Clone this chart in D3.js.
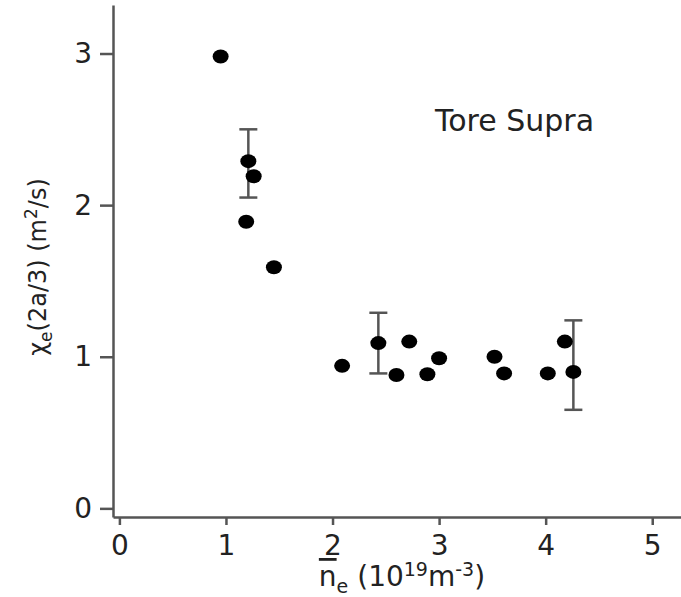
<!DOCTYPE html>
<html>
<head>
<meta charset="utf-8">
<script src="https://cdn.jsdelivr.net/npm/d3@7"></script>
<style>
  body { margin: 0; background: #fff; }
  svg text { font-family: "DejaVu Sans", Arial, Helvetica, sans-serif; fill: #222; }
  .axis path, .axis line { stroke: #555; stroke-width: 2.5px; }
  .axis text { font-size: 28px; }
</style>
</head>
<body>
<div id="container"></div>
<script>
var width = 681,
    height = 597;

// data
var density = [0.95, 1.21, 1.26, 1.19, 1.45, 2.09, 2.43, 2.60, 2.72, 2.89, 3.00, 3.52, 3.61, 4.02, 4.18, 4.26];
var chi = [2.98, 2.29, 2.19, 1.89, 1.59, 0.94, 1.09, 0.88, 1.10, 0.885, 0.99, 1.00, 0.89, 0.89, 1.10, 0.90];
var errX = [1.21, 2.43, 4.26];
var errLo = [2.05, 0.89, 0.65];
var errHi = [2.50, 1.29, 1.24];
var xTicks = [0, 1, 2, 3, 4, 5];
var yTicks = [0, 1, 2, 3];

var svg = d3.select('#container')
    .append('svg')
    .attr('width', width)
    .attr('height', height);

var scale_x = d3.scaleLinear()
    .domain([-0.06, 5.27])
    .range([113, 681]);
var scale_y = d3.scaleLinear()
    .domain([-0.057, 3.32])
    .range([517, 5]);

// x axis
svg.append('g')
    .attr('class', 'axis')
    .attr('transform', 'translate(0,' + scale_y(-0.057) + ')')
    .call(d3.axisBottom(scale_x).tickValues(xTicks).tickFormat(d3.format('d'))
        .tickSize(8).tickSizeOuter(0).tickPadding(10));
// y axis
svg.append('g')
    .attr('class', 'axis')
    .attr('transform', 'translate(' + scale_x(-0.06) + ',0)')
    .call(d3.axisLeft(scale_y).tickValues(yTicks).tickFormat(d3.format('d'))
        .tickSize(13).tickSizeOuter(0).tickPadding(8));

svg.selectAll('.axis text').attr('fill', '#222');

// error bars
var eb = svg.append('g').attr('stroke', '#555').attr('stroke-width', 2.5);
errX.forEach(function (x, i) {
    eb.append('line')
        .attr('x1', scale_x(x)).attr('x2', scale_x(x))
        .attr('y1', scale_y(errLo[i])).attr('y2', scale_y(errHi[i]));
    [errLo[i], errHi[i]].forEach(function (v) {
        eb.append('line')
            .attr('x1', scale_x(x) - 9).attr('x2', scale_x(x) + 9)
            .attr('y1', scale_y(v)).attr('y2', scale_y(v));
    });
});

// points
svg.append('g')
    .selectAll('ellipse')
    .data(density)
    .enter()
    .append('ellipse')
    .attr('cx', function (d) { return scale_x(d); })
    .attr('cy', function (d, i) { return scale_y(chi[i]); })
    .attr('rx', 8)
    .attr('ry', 7)
    .attr('fill', '#000');

// annotation
svg.append('text')
    .attr('x', 435)
    .attr('y', 131)
    .attr('font-size', 30)
    .text('Tore Supra');

// x title
var xt = svg.append('text')
    .attr('x', 402)
    .attr('y', 586)
    .attr('text-anchor', 'middle')
    .attr('font-size', 28);
xt.append('tspan').attr('text-decoration', 'overline').text('n');
xt.append('tspan').attr('font-size', 19).attr('dy', 7).text('e');
xt.append('tspan').attr('dy', -7).text(' (10');
xt.append('tspan').attr('font-size', 19).attr('dy', -10).text('19');
xt.append('tspan').attr('dy', 10).text('m');
xt.append('tspan').attr('font-size', 19).attr('dy', -10).text('-3');
xt.append('tspan').attr('dy', 10).text(')');

// y title
var yt = svg.append('text')
    .attr('transform', 'translate(46,267) rotate(-90)')
    .attr('text-anchor', 'middle')
    .attr('font-size', 24);
yt.append('tspan').text('\u03c7');
yt.append('tspan').attr('font-size', 17).attr('dy', 6).text('e');
yt.append('tspan').attr('dy', -6).text('(2a/3) (m');
yt.append('tspan').attr('font-size', 17).attr('dy', -9).text('2');
yt.append('tspan').attr('dy', 9).text('/s)');
</script>
</body>
</html>
